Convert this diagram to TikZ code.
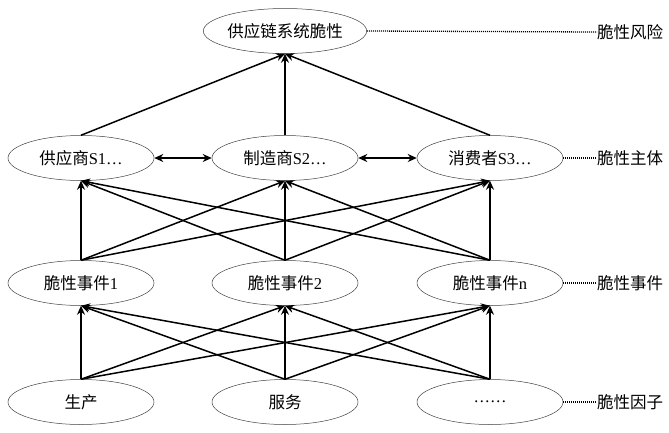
\documentclass[tikz,border=0pt]{standalone}
\usepackage{fontspec}
\setmainfont{Liberation Serif}
\newfontfamily\cjk{Noto Sans CJK SC}
\usetikzlibrary{shapes.geometric,arrows.meta}
\begin{document}
\begin{tikzpicture}[x=1pt,y=-1pt,
  el/.style={ellipse,draw=black!75,line width=0.5pt,minimum width=146pt,minimum height=45pt,inner sep=0pt,font=\fontsize{16.5}{18}\selectfont},
  lab/.style={anchor=west,inner sep=0pt,font=\cjk\fontsize{16.5}{18}\selectfont},
  arr/.style={-{Stealth[length=9pt,width=8pt]},line width=1.5pt},
  darr/.style={{Stealth[length=9pt,width=8pt]}-{Stealth[length=9pt,width=8pt]},line width=1.5pt},
  dot/.style={dash pattern=on 1pt off 1pt,line width=1.3pt}]
\useasboundingbox (0,0) rectangle (669,432);
\node[el] (top) at (285,31) {\cjk 供应链系统脆性};
\node[el] (s1) at (81,158) {{\cjk 供应商}S1…};
\node[el] (s2) at (285,158) {{\cjk 制造商}S2…};
\node[el] (s3) at (490,158) {{\cjk 消费者}S3…};
\node[el] (e1) at (81,283) {{\cjk 脆性事件}1};
\node[el] (e2) at (285,283) {{\cjk 脆性事件}2};
\node[el] (e3) at (490,283) {{\cjk 脆性事件}n};
\node[el] (f1) at (81,402) {\cjk 生产};
\node[el] (f2) at (285,402) {\cjk 服务};
\node[el] (f3) at (490,402) {……};
\node[lab] (l1) at (597,32) {脆性风险};
\node[lab] (l2) at (597,158) {脆性主体};
\node[lab] (l3) at (597,283) {脆性事件};
\node[lab] (l4) at (597,402) {脆性因子};
\draw[dot] (top.east) -- (l1.west);
\draw[dot] (s3.east) -- (l2.west);
\draw[dot] (e3.east) -- (l3.west);
\draw[dot] (f3.east) -- (l4.west);
\foreach \a in {s1,s2,s3} \draw[arr] (\a.north) -- (top.south);
\draw[darr] (s1.east) -- (s2.west);
\draw[darr] (s2.east) -- (s3.west);
\foreach \a in {e1,e2,e3} \foreach \b in {s1,s2,s3} \draw[arr] (\a.north) -- (\b.south);
\foreach \a in {f1,f2,f3} \foreach \b in {e1,e2,e3} \draw[arr] (\a.north) -- (\b.south);
\end{tikzpicture}
\end{document}
